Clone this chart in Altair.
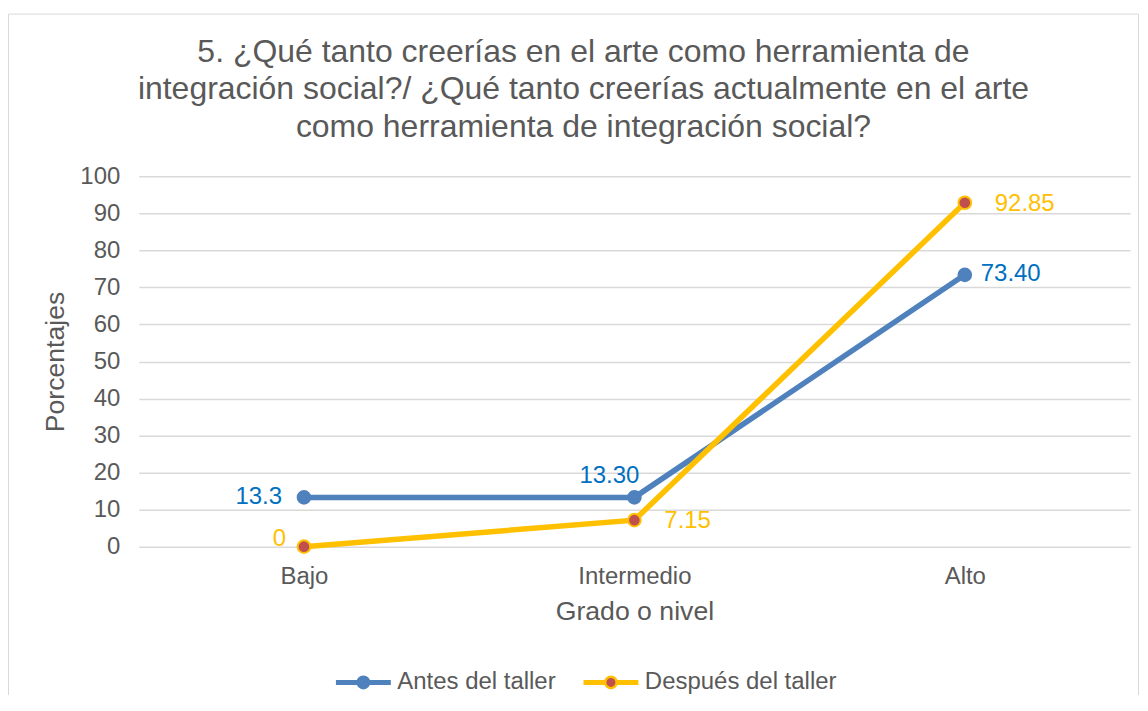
import altair as alt
import pandas as pd

# ---- data ----
categories = ["Bajo", "Intermedio", "Alto"]
series_names = ["Antes del taller", "Después del taller"]
antes = [13.3, 13.3, 73.4]
despues = [0, 7.15, 92.85]
antes_labels = ["13.3", "13.30", "73.40"]
despues_labels = ["0", "7.15", "92.85"]
y_ticks = [0, 10, 20, 30, 40, 50, 60, 70, 80, 90, 100]
title_lines = [
    "5. ¿Qué tanto creerías en el arte como herramienta de",
    "integración social?/ ¿Qué tanto creerías actualmente en el arte",
    "como herramienta de integración social?",
]

rows = []
for c, v, l in zip(categories, antes, antes_labels):
    rows.append({"grado": c, "serie": series_names[0], "valor": v, "etiqueta": l})
for c, v, l in zip(categories, despues, despues_labels):
    rows.append({"grado": c, "serie": series_names[1], "valor": v, "etiqueta": l})
df = pd.DataFrame(rows)

FONT = "Liberation Sans"
GRAY = "#595959"
BLUE = "#4F81BD"
YELLOW = "#FFC000"
RED = "#C0504D"
LBLUE = "#0070C0"
GRID = "#D9D9D9"

# legend symbol: line with a circle marker in the middle
r = 0.21
t = 0.045
legend_path = (
    f"M-1,{-t}L{-r},{-t}M-1,{t}L{-r},{t}"
    f"M{r},{-t}L1,{-t}M{r},{t}L1,{t}"
    f"M{-r},0A{r},{r},0,1,1,{r},0A{r},{r},0,1,1,{-r},0Z"
)

legend = alt.Legend(
    orient="none", legendX=196, legendY=478, direction="horizontal", title=None,
    symbolType=legend_path, symbolSize=3025, symbolStrokeWidth=2.5,
    labelFont=FONT, labelFontSize=24, labelColor=GRAY, labelOffset=5, labelLimit=400,
    columnPadding=22, padding=0,
)

x = alt.X(
    "grado:N", sort=categories,
    scale=alt.Scale(type="point", padding=0.5),
    axis=alt.Axis(
        title="Grado o nivel", titleFont=FONT, titleFontSize=26.7, titleFontWeight="normal",
        titleColor=GRAY, titlePadding=10, labelFont=FONT, labelFontSize=24, labelColor=GRAY,
        labelAngle=0, labelPadding=18, ticks=False, tickSize=0, domain=False, grid=False,
    ),
)
y = alt.Y(
    "valor:Q",
    scale=alt.Scale(domain=[0, 100], nice=False),
    axis=alt.Axis(
        values=y_ticks, title="Porcentajes", titleFont=FONT, titleFontSize=26.7,
        titleFontWeight="normal", titleColor=GRAY, titlePadding=10,
        labelFont=FONT, labelFontSize=24, labelColor=GRAY, labelPadding=19,
        ticks=False, tickSize=0, domain=False, grid=True, gridColor=GRID, gridWidth=1.5,
    ),
)

stroke_scale = alt.Scale(domain=series_names, range=[BLUE, YELLOW])
fill_scale = alt.Scale(domain=series_names, range=[BLUE, RED])

frame = alt.Chart(pd.DataFrame({"a": [0]})).mark_rect(
    fill=None, stroke=GRID, strokeWidth=1
).encode(
    x=alt.value(-130.5), x2=alt.value(1001.5), y=alt.value(-162.5), y2=alt.value(700)
)

lines = alt.Chart(df).mark_line(strokeWidth=5.5).encode(
    x=x, y=y, stroke=alt.Stroke("serie:N", scale=stroke_scale, legend=legend)
)

points = alt.Chart(df).mark_circle(size=160, strokeWidth=2, opacity=1).encode(
    x=x, y=y,
    fill=alt.Fill("serie:N", scale=fill_scale, legend=legend),
    stroke=alt.Stroke("serie:N", scale=stroke_scale, legend=legend),
)


def label(serie, grado, align, dx, dy, color):
    return alt.Chart(df).transform_filter(
        (alt.datum.serie == serie) & (alt.datum.grado == grado)
    ).mark_text(
        align=align, baseline="middle", dx=dx, dy=dy, font=FONT, fontSize=24, color=color
    ).encode(x=x, y=y, text="etiqueta:N")


labels = [
    label(series_names[0], "Bajo", "right", -22, 0, LBLUE),
    label(series_names[1], "Bajo", "right", -18, -8, YELLOW),
    label(series_names[0], "Intermedio", "center", -25, -21, LBLUE),
    label(series_names[1], "Intermedio", "left", 30, 1, YELLOW),
    label(series_names[1], "Alto", "left", 30, 1, YELLOW),
    label(series_names[0], "Alto", "left", 16, -1, LBLUE),
]

chart = alt.layer(frame, lines, points, *labels).properties(
    width=993, height=371,
    title=alt.TitleParams(
        text=title_lines, font=FONT, fontSize=32, fontWeight="normal", color=GRAY,
        anchor="middle", frame="group", dx=-51, dy=131, offset=0, lineHeight=38,
    ),
    autosize=alt.AutoSizeParams(type="none"),
    padding={"left": 131, "top": 168, "right": 10, "bottom": 148},
).configure_view(stroke=None)

chart.save("out.html", embed_options={"renderer": "svg", "actions": False})
